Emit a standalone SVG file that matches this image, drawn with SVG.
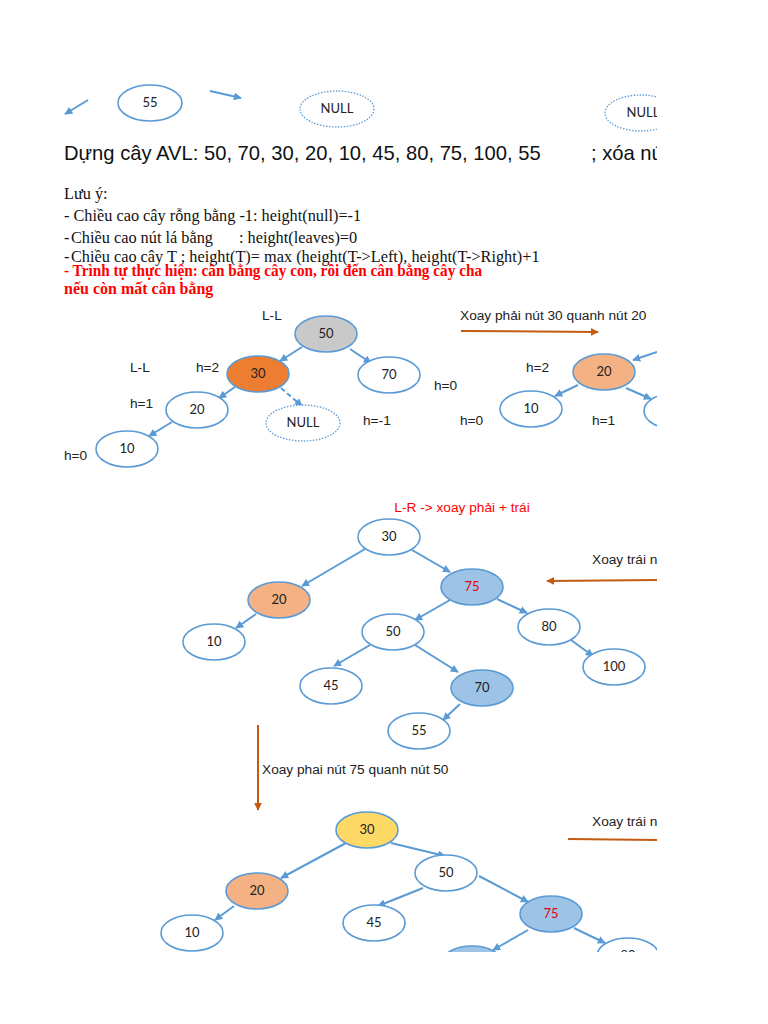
<svg xmlns="http://www.w3.org/2000/svg" width="768" height="1024" viewBox="0 0 768 1024">
<defs>
<clipPath id="page"><rect x="0" y="0" width="657" height="952"/></clipPath>
<marker id="ab" viewBox="0 0 10 10" refX="9" refY="5" markerWidth="4" markerHeight="4" orient="auto"><path d="M0,0 L10,5 L0,10 z" fill="#5b9bd5"/></marker>
<marker id="ao" viewBox="0 0 10 10" refX="9" refY="5" markerWidth="4" markerHeight="4" orient="auto"><path d="M0,0 L10,5 L0,10 z" fill="#c55a11"/></marker>
<style>
.n{fill:#fff;stroke:#5b9bd5;stroke-width:1.6}
.null{fill:#fff;stroke:#5b9bd5;stroke-width:1.3;stroke-dasharray:1.5 1.5}
.gray{fill:#c9c9c9}
.org{fill:#ed7d31}
.peach{fill:#f4b183}
.blue{fill:#9dc3e6}
.yel{fill:#ffd966}
.t{font-family:Lato,"Open Sans",sans-serif;font-size:13px;fill:#222;text-anchor:middle}
.tr{fill:#e8000b}
.lab{font-family:"Liberation Sans",Arial,sans-serif;font-size:13.7px;fill:#222}
.e{stroke:#5b9bd5;stroke-width:2;fill:none;marker-end:url(#ab)}
.o{stroke:#c55a11;stroke-width:2;fill:none}
.serif{font-family:"Liberation Serif","Times New Roman",serif;font-size:16.3px;fill:#111}
.red{font-family:"Liberation Serif","Times New Roman",serif;font-size:16px;font-weight:bold;fill:#ff0000}
</style>
</defs>
<g clip-path="url(#page)">
<rect x="0" y="0" width="768" height="1024" fill="#fff"/>
<g id="connectors">
<line class="e" x1="88" y1="100" x2="65" y2="114"/>
<line class="e" x1="210" y1="91" x2="241" y2="98"/>
<line class="e" x1="302" y1="347" x2="280" y2="361"/>
<line class="e" x1="350" y1="349" x2="371" y2="363"/>
<line class="e" x1="235" y1="387" x2="219" y2="398"/>
<line class="e" x1="281" y1="388" x2="302" y2="406" stroke-dasharray="5 3"/>
<line class="e" x1="172" y1="422" x2="149" y2="436"/>
<line class="e" x1="657" y1="352" x2="633" y2="360"/>
<line class="e" x1="578" y1="385" x2="555" y2="396"/>
<line class="e" x1="626" y1="388" x2="651" y2="399"/>
<line class="e" x1="365" y1="549" x2="302" y2="586"/>
<line class="e" x1="412" y1="550" x2="450" y2="572"/>
<line class="e" x1="450" y1="600" x2="415" y2="620"/>
<line class="e" x1="497" y1="599" x2="527" y2="613"/>
<line class="e" x1="256" y1="614" x2="236" y2="628"/>
<line class="e" x1="370" y1="645" x2="334" y2="666"/>
<line class="e" x1="415" y1="645" x2="458" y2="672"/>
<line class="e" x1="571" y1="640" x2="593" y2="656"/>
<line class="e" x1="460" y1="704" x2="443" y2="720"/>
<line class="e" x1="346" y1="843" x2="281" y2="878"/>
<line class="e" x1="391" y1="843" x2="445" y2="856"/>
<line class="e" x1="423" y1="888" x2="378" y2="906"/>
<line class="e" x1="479" y1="876" x2="528" y2="902"/>
<line class="e" x1="234" y1="906" x2="215" y2="920"/>
<line class="e" x1="528" y1="930" x2="493" y2="950"/>
<line class="e" x1="574" y1="928" x2="605" y2="943"/>
<line class="o" x1="461" y1="331" x2="598" y2="332" marker-end="url(#ao)"/>
<line class="o" x1="657" y1="580" x2="547" y2="581" marker-end="url(#ao)"/>
<line class="o" x1="258" y1="725" x2="258" y2="810" marker-end="url(#ao)"/>
<line class="o" x1="568" y1="839" x2="657" y2="840"/>
</g>
<g id="top-nodes">
<g id="n55top"><ellipse class="n" cx="150" cy="103" rx="32" ry="18"/><text class="t" x="150" y="107">55</text></g>
<g id="null1"><ellipse class="null" cx="337" cy="109" rx="37" ry="18"/><text class="t" x="337" y="113">NULL</text></g>
<g id="null2"><ellipse class="null" cx="641" cy="113" rx="36" ry="18"/><text class="t" x="643" y="117">NULL</text></g>
</g>
<g id="texts">
<text x="64" y="160" font-family="Liberation Sans,Arial,sans-serif" font-size="20.2" fill="#111">Dựng cây AVL: 50, 70, 30, 20, 10, 45, 80, 75, 100, 55</text>
<text x="591" y="160" font-family="Liberation Sans,Arial,sans-serif" font-size="20.2" fill="#111">; xóa nút</text>
<text class="serif" x="64" y="199">Lưu ý:</text>
<text class="serif" x="64" y="221">- Chiều cao cây rỗng bằng -1: height(null)=-1</text>
<text class="serif" x="64" y="243">-<tspan x="71">Chiều cao nút lá bằng</tspan><tspan x="239">:  height(leaves)=0</tspan></text>
<text class="serif" x="64" y="262">-<tspan x="71">Chiều cao cây T ;  height(T)= max (height(T-&gt;Left), height(T-&gt;Right)+1</tspan></text>
<text class="red" x="64" y="276" textLength="418" lengthAdjust="spacingAndGlyphs">- Trình tự thực hiện: cân bằng cây con, rồi đến cân bằng cây cha</text>
<text class="red" x="64" y="294">nếu còn mất cân bằng</text>
<text class="lab" x="262" y="320">L-L</text>
<text class="lab" x="130" y="372">L-L</text>
<text class="lab" x="196" y="372">h=2</text>
<text class="lab" x="130" y="408">h=1</text>
<text class="lab" x="64" y="460">h=0</text>
<text class="lab" x="363" y="425">h=-1</text>
<text class="lab" x="434" y="390">h=0</text>
<text class="lab" x="460" y="425">h=0</text>
<text class="lab" x="592" y="425">h=1</text>
<text class="lab" x="526" y="372">h=2</text>
<text class="lab" x="460" y="320">Xoay phải nút 30 quanh nút 20</text>
<text class="lab" x="462" y="512" text-anchor="middle" style="fill:#ff0000">L-R -&gt; xoay phải + trái</text>
<text class="lab" x="592" y="564">Xoay trái nút</text>
<text class="lab" x="262" y="774">Xoay phai nút 75 quanh nút 50</text>
<text class="lab" x="592" y="826">Xoay trái nút</text>
</g>
<g id="tree1">
<g id="t1n50"><ellipse class="n gray" cx="326" cy="334" rx="31" ry="18"/><text class="t" x="326" y="338">50</text></g>
<g id="t1n30"><ellipse class="n org" cx="258" cy="374" rx="31" ry="18"/><text class="t" x="258" y="378">30</text></g>
<g id="t1n70"><ellipse class="n" cx="389" cy="375" rx="31" ry="18"/><text class="t" x="389" y="379">70</text></g>
<g id="t1n20"><ellipse class="n" cx="197" cy="410" rx="31" ry="18"/><text class="t" x="197" y="414">20</text></g>
<g id="t1null"><ellipse class="null" cx="303" cy="423" rx="37" ry="18"/><text class="t" x="303" y="427">NULL</text></g>
<g id="t1n10"><ellipse class="n" cx="127" cy="449" rx="31" ry="18"/><text class="t" x="127" y="453">10</text></g>
</g>
<g id="tree2">
<g id="t2n20"><ellipse class="n peach" cx="604" cy="372" rx="31" ry="18"/><text class="t" x="604" y="376">20</text></g>
<g id="t2n10"><ellipse class="n" cx="531" cy="409" rx="31" ry="18"/><text class="t" x="531" y="413">10</text></g>
<g id="t2nr"><ellipse class="n" cx="675" cy="411" rx="31" ry="18"/></g>
</g>
<g id="tree3">
<g id="t3n30"><ellipse class="n" cx="389" cy="537" rx="31" ry="18"/><text class="t" x="389" y="541">30</text></g>
<g id="t3n75"><ellipse class="n blue" cx="472" cy="587" rx="31" ry="18"/><text class="t tr" x="472" y="591">75</text></g>
<g id="t3n20"><ellipse class="n peach" cx="279" cy="600" rx="31" ry="18"/><text class="t" x="279" y="604">20</text></g>
<g id="t3n10"><ellipse class="n" cx="214" cy="642" rx="31" ry="18"/><text class="t" x="214" y="646">10</text></g>
<g id="t3n50"><ellipse class="n" cx="393" cy="632" rx="31" ry="18"/><text class="t" x="393" y="636">50</text></g>
<g id="t3n80"><ellipse class="n" cx="549" cy="627" rx="31" ry="18"/><text class="t" x="549" y="631">80</text></g>
<g id="t3n100"><ellipse class="n" cx="614" cy="667" rx="31" ry="18"/><text class="t" x="614" y="671">100</text></g>
<g id="t3n45"><ellipse class="n" cx="331" cy="686" rx="31" ry="18"/><text class="t" x="331" y="690">45</text></g>
<g id="t3n70"><ellipse class="n blue" cx="482" cy="688" rx="31" ry="18"/><text class="t" x="482" y="692">70</text></g>
<g id="t3n55"><ellipse class="n" cx="419" cy="731" rx="31" ry="18"/><text class="t" x="419" y="735">55</text></g>
</g>
<g id="tree4">
<g id="t4n30"><ellipse class="n yel" cx="367" cy="830" rx="31" ry="18"/><text class="t" x="367" y="834">30</text></g>
<g id="t4n20"><ellipse class="n peach" cx="257" cy="891" rx="31" ry="18"/><text class="t" x="257" y="895">20</text></g>
<g id="t4n10"><ellipse class="n" cx="192" cy="933" rx="31" ry="18"/><text class="t" x="192" y="937">10</text></g>
<g id="t4n50"><ellipse class="n" cx="446" cy="873" rx="31" ry="18"/><text class="t" x="446" y="877">50</text></g>
<g id="t4n45"><ellipse class="n" cx="374" cy="923" rx="31" ry="18"/><text class="t" x="374" y="927">45</text></g>
<g id="t4n75"><ellipse class="n blue" cx="551" cy="914" rx="31" ry="18"/><text class="t tr" x="551" y="918">75</text></g>
<g id="t4n80"><ellipse class="n" cx="628" cy="956" rx="31" ry="18"/><text class="t" x="628" y="960">80</text></g>
<g id="t4nb"><ellipse class="n blue" cx="472" cy="964" rx="31" ry="18"/></g>
</g>
</g>
</svg>
